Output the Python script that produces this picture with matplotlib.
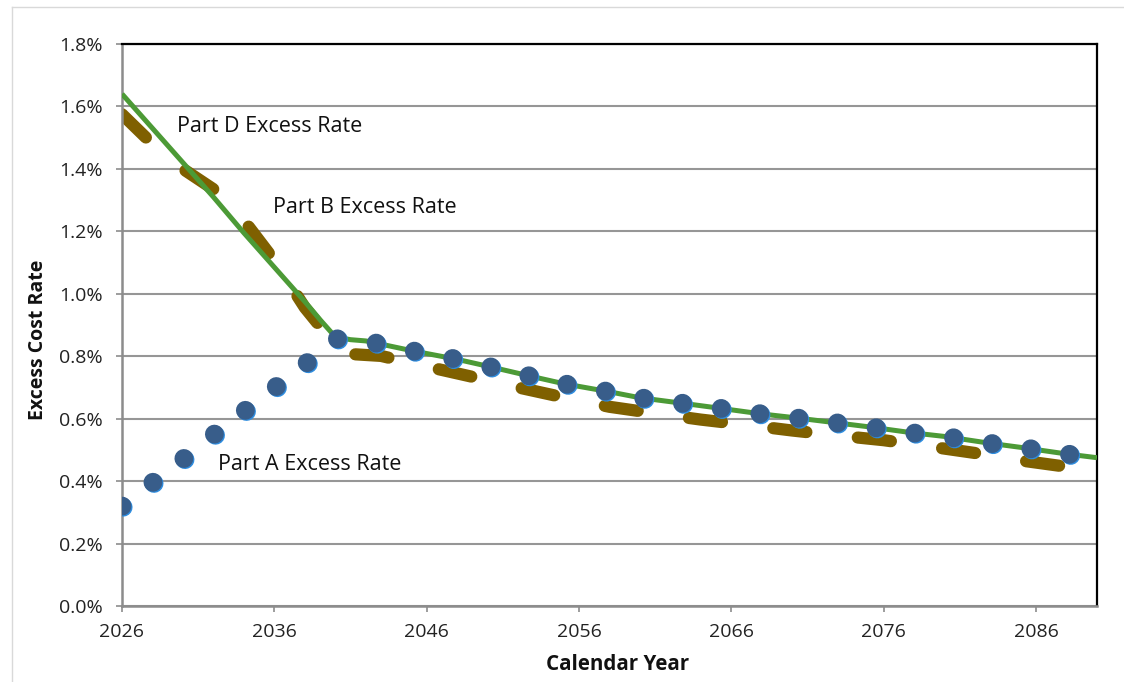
import matplotlib
matplotlib.use('Agg')
import matplotlib.pyplot as plt
import matplotlib.patheffects as pe
from matplotlib.lines import Line2D

# 年度與各部分超額成本率 (%)
years_a = [2026, 2028, 2030, 2032, 2034, 2036, 2038, 2040, 2041, 2042, 2045, 2048, 2050, 2053, 2055,
           2058, 2060, 2063, 2065, 2068, 2070, 2073, 2075, 2078, 2080, 2083, 2085, 2088, 2090]
part_a = [0.320, 0.395, 0.470, 0.548, 0.623, 0.698, 0.773, 0.856, 0.853, 0.849, 0.818, 0.790, 0.768, 0.734, 0.712,
          0.686, 0.667, 0.648, 0.635, 0.615, 0.604, 0.586, 0.574, 0.554, 0.543, 0.521, 0.508, 0.487, 0.475]

years_d = [2026, 2028, 2030, 2032, 2034, 2036, 2038, 2039, 2040, 2041, 2042, 2045, 2048, 2050, 2053, 2055,
           2058, 2060, 2063, 2065, 2068, 2070, 2073, 2075, 2078, 2080, 2083, 2085, 2088, 2090]
part_d = [1.640, 1.530, 1.420, 1.310, 1.195, 1.085, 0.975, 0.917, 0.862, 0.853, 0.849, 0.818, 0.790, 0.768, 0.734, 0.712,
          0.686, 0.667, 0.648, 0.635, 0.615, 0.604, 0.586, 0.574, 0.554, 0.543, 0.521, 0.508, 0.487, 0.475]

years_b = [2026, 2028, 2030, 2032, 2034, 2036, 2038, 2039, 2040, 2041, 2043, 2046, 2049, 2052, 2055,
           2058, 2061, 2064, 2067, 2070, 2073, 2076, 2079, 2082, 2085, 2088, 2090]
part_b = [1.575, 1.480, 1.400, 1.335, 1.235, 1.107, 0.956, 0.896, 0.830, 0.807, 0.801, 0.767, 0.734, 0.700, 0.668,
          0.638, 0.617, 0.597, 0.580, 0.562, 0.546, 0.531, 0.511, 0.490, 0.466, 0.446, 0.436]

x_ticks = [2026, 2036, 2046, 2056, 2066, 2076, 2086]
y_ticks = [0.0, 0.2, 0.4, 0.6, 0.8, 1.0, 1.2, 1.4, 1.6, 1.8]

W, H = 1124, 682
plt.rcParams['font.family'] = ['Open Sans', 'DejaVu Sans']
plt.rcParams['lines.scale_dashes'] = False

fig = plt.figure(figsize=(W / 100, H / 100), dpi=100)
ax = fig.add_axes([122 / W, 1 - 606 / H, 975 / W, 562 / H])

# 圖表外框 (淡灰)
fig.add_artist(Line2D([12 / W, 12 / W], [0, 1 - 7 / H], color='#D9D9D9', lw=1))
fig.add_artist(Line2D([12 / W, 1], [1 - 7 / H, 1 - 7 / H], color='#D9D9D9', lw=1))

# Part D 綠色實線
ax.plot(years_d, part_d, color='#4C9A36', lw=3.6, solid_capstyle='butt', zorder=3)

# Part B 棕色長虛線
ax.plot(years_b, part_b, color='#7F6000', lw=8.8, linestyle=(0, (24.0, 37.2)),
        dash_capstyle='round', zorder=2)

# Part A 藍色圓點線
ax.plot(years_a, part_a, color='#385D8A', lw=13.6, linestyle=(0, (0.01, 28.1)),
        dash_capstyle='round', zorder=4,
        path_effects=[pe.SimpleLineShadow(offset=(0.8, -0.8), shadow_color='#2E8DE0', alpha=1),
                      pe.Normal()])

ax.set_xlim(2026, 2090)
ax.set_ylim(0, 1.8)
ax.set_xticks(x_ticks)
ax.set_xticklabels([str(y) for y in x_ticks])
ax.set_yticks(y_ticks)
ax.set_yticklabels(['{:.1f}%'.format(v) for v in y_ticks])

ax.grid(axis='y', color='#969696', lw=1.5)
ax.set_axisbelow(True)

for side in ['left', 'bottom']:
    ax.spines[side].set_color('#8C8C8C')
    ax.spines[side].set_linewidth(1.8)
for side in ['top', 'right']:
    ax.spines[side].set_color('#000000')
    ax.spines[side].set_linewidth(1.6)

ax.tick_params(axis='both', direction='out', length=4.5, width=1.2, color='#8C8C8C',
               labelsize=14, labelcolor='#222222')
ax.tick_params(axis='y', pad=9.5)
ax.tick_params(axis='x', pad=7.5)

ax.set_xlabel('Calendar Year', fontsize=14.8, fontweight='bold', color='#111111')
ax.xaxis.set_label_coords(0.5087, -0.086)
ax.set_ylabel('Excess Cost Rate', fontsize=14, fontweight='bold', color='#111111')
ax.yaxis.set_label_coords(-0.076, 0.473)

# 各曲線名稱
labels = [('Part D Excess Rate', 176.7, 127),
          ('Part B Excess Rate', 272.7, 207.7),
          ('Part A Excess Rate', 218.3, 464)]
for txt, px, py in labels:
    fig.text(px / W, 1 - py / H, txt, fontsize=15.5, color='#111111', ha='left', va='center')

fig.savefig('out.png', dpi=100)
